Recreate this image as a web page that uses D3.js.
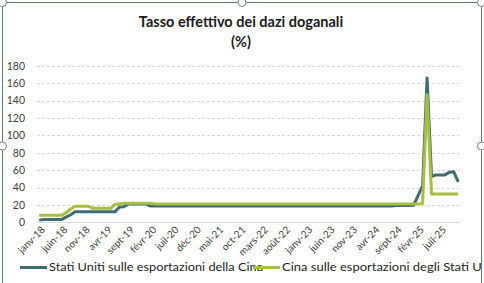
<!DOCTYPE html>
<html>
<head>
<meta charset="utf-8">
<script src="https://cdn.jsdelivr.net/npm/d3@7"></script>
<style>
  body { margin: 0; background: #fff; }
  svg { display: block; font-family: Lato, "Open Sans", sans-serif; }
</style>
</head>
<body>
<div id="vis"></div>
<script>
// categories: Jan 2018 .. Nov 2025, monthly
const monthNames = ["janv", "févr", "mars", "avr", "mai", "juin", "juil", "août", "sept", "oct", "nov", "déc"];
const years = ["18", "19", "20", "21", "22", "23", "24", "25"];
const months = years.flatMap(y => monthNames.map(m => `${m}-${y}`)).slice(0, 95);

const seriesNames = ["Stati Uniti sulle esportazioni della Cina", "Cina sulle esportazioni degli Stati Uniti"];

// US tariff on Chinese exports (%)
const usOnChina = [
  2.5, 3.1, 3.1, 3.1, 3.1, 3.1, 6, 8.5, 12, 12, 12, 12,
  12, 12, 12, 12, 12, 12, 17.5, 18, 21, 21, 21, 21,
  21, 18.6, 18.6, 18.6, 18.6, 18.6, 18.6, 18.6, 18.6, 18.6, 18.6, 18.6,
  18.6, 18.6, 18.6, 18.6, 18.6, 18.6, 18.6, 18.6, 18.6, 18.6, 18.6, 18.6,
  18.6, 18.6, 18.6, 18.6, 18.6, 18.6, 18.6, 18.6, 18.6, 18.6, 18.6, 18.6,
  18.6, 18.6, 18.6, 18.6, 18.6, 18.6, 18.6, 18.6, 18.6, 18.6, 18.6, 18.6,
  18.6, 18.6, 18.6, 18.6, 18.6, 18.6, 18.6, 18.6, 19.3, 19.3, 19.3, 19.3,
  19.5, 31, 42, 166, 52.5, 54.5, 54.5, 54.5, 57.5, 58, 46.5
];

// China tariff on US exports (%)
const chinaOnUs = [
  8, 8, 8, 8, 8, 8, 11, 15, 18.5, 18.5, 18.5, 18.5,
  16.1, 16.1, 16.1, 16.1, 16.1, 20.5, 21.2, 21.8, 22, 22, 22, 22,
  22, 22, 21, 21, 21, 21, 21, 21, 21, 21, 21, 21,
  21, 21, 21, 21, 21, 21, 21, 21, 21, 21, 21, 21,
  21, 21, 21, 21, 21, 21, 21, 21, 21, 21, 21, 21,
  21, 21, 21, 21, 21, 21, 21, 21, 21, 21, 21, 21,
  21, 21, 21, 21, 21, 21, 21, 21, 21, 21, 21, 21,
  21, 21, 21.5, 147, 32.6, 32.6, 32.6, 32.6, 32.6, 32.6, 32.6
];

const yTicks = [0, 20, 40, 60, 80, 100, 120, 140, 160, 180];
const xTickLabels = months.filter((d, i) => i % 5 === 0);

const colors = ["#3f6c71", "#a6bf42"];

const width = 484, height = 283;

const x = d3.scalePoint()
  .domain(months)
  .range([37, 460.5])
  .padding(0.5);

const y = d3.scaleLinear()
  .domain([0, 180])
  .range([222.3, 65.7]);

const svg = d3.select("#vis")
  .append("svg")
    .attr("width", width)
    .attr("height", height);

svg.append("defs").append("clipPath")
    .attr("id", "chartclip")
  .append("rect")
    .attr("x", 3).attr("y", 3)
    .attr("width", 478).attr("height", 290);

const chart = svg.append("g").attr("clip-path", "url(#chartclip)");

// title
chart.append("text")
    .attr("x", 241)
    .attr("y", 27)
    .attr("text-anchor", "middle")
    .attr("font-weight", "bold")
    .attr("font-size", 14.5)
    .attr("fill", "#1a1a1a")
    .text("Tasso effettivo dei dazi doganali");

chart.append("text")
    .attr("x", 241)
    .attr("y", 47)
    .attr("text-anchor", "middle")
    .attr("font-weight", "bold")
    .attr("font-size", 14.5)
    .attr("fill", "#1a1a1a")
    .text("(%)");

// gridlines
chart.append("g")
  .selectAll("line")
  .data(yTicks)
  .join("line")
    .attr("x1", 37)
    .attr("x2", 460.5)
    .attr("y1", d => Math.round(y(d)) + 0.5)
    .attr("y2", d => Math.round(y(d)) + 0.5)
    .attr("stroke", "#d9d9d9")
    .attr("stroke-width", 1)
    .attr("stroke-dasharray", d => d === 0 ? null : "3,2");

// y axis labels
const yAxis = d3.axisLeft(y).tickValues(yTicks).tickSize(0).tickPadding(0);
chart.append("g")
    .attr("transform", "translate(25,0)")
    .call(yAxis)
    .call(g => g.select(".domain").remove())
    .call(g => g.selectAll("text")
      .attr("font-family", "Lato, sans-serif")
      .attr("font-size", 10.5)
      .attr("fill", "#404040"));

// x axis labels, rotated
const xAxis = d3.axisBottom(x).tickValues(xTickLabels).tickSize(0).tickPadding(0);
chart.append("g")
    .call(xAxis)
    .call(g => g.select(".domain").remove())
    .call(g => g.selectAll(".tick").attr("transform", d => `translate(${x(d) + 4},228)`))
    .call(g => g.selectAll("text")
      .attr("font-family", "Lato, sans-serif")
      .attr("font-size", 10)
      .attr("fill", "#404040")
      .attr("y", 0)
      .attr("dy", "0.35em")
      .attr("text-anchor", "end")
      .attr("transform", "rotate(-45)"));

// lines
const line = d3.line()
  .x((d, i) => x(months[i]))
  .y(d => y(d));

chart.append("g")
  .selectAll("path")
  .data([usOnChina, chinaOnUs])
  .join("path")
    .attr("fill", "none")
    .attr("stroke", (d, i) => colors[i])
    .attr("stroke-width", 3)
    .attr("stroke-linejoin", "round")
    .attr("d", line);

// legend
const legendX = [20, 253];
const legendLen = [214, 218];
const legend = chart.append("g");
legend.selectAll("text")
  .data(seriesNames)
  .join("text")
    .attr("x", (d, i) => legendX[i] + 29)
    .attr("y", 271)
    .attr("font-family", "Lato, sans-serif")
    .attr("font-size", 12)
    .attr("fill", "#262626")
    .attr("textLength", (d, i) => legendLen[i])
    .attr("lengthAdjust", "spacingAndGlyphs")
    .text(d => d);
legend.selectAll("line")
  .data(seriesNames)
  .join("line")
    .attr("x1", (d, i) => legendX[i])
    .attr("x2", (d, i) => legendX[i] + 27)
    .attr("y1", 267.5)
    .attr("y2", 267.5)
    .attr("stroke", (d, i) => colors[i])
    .attr("stroke-width", 3);

// chart frame + selection handles
svg.append("rect")
    .attr("x", 2.5).attr("y", 2.5)
    .attr("width", 479).attr("height", 300)
    .attr("fill", "none")
    .attr("stroke", "#5b7f5b")
    .attr("stroke-width", 1);

const handles = [[2.5, 2.5], [242, 2.5], [481.5, 2.5], [2.5, 146], [481.5, 146]];
svg.append("g")
  .selectAll("circle")
  .data(handles)
  .join("circle")
    .attr("cx", d => d[0])
    .attr("cy", d => d[1])
    .attr("r", 4)
    .attr("fill", "#fff")
    .attr("stroke", "#7f7f7f")
    .attr("stroke-width", 1);
</script>
</body>
</html>
